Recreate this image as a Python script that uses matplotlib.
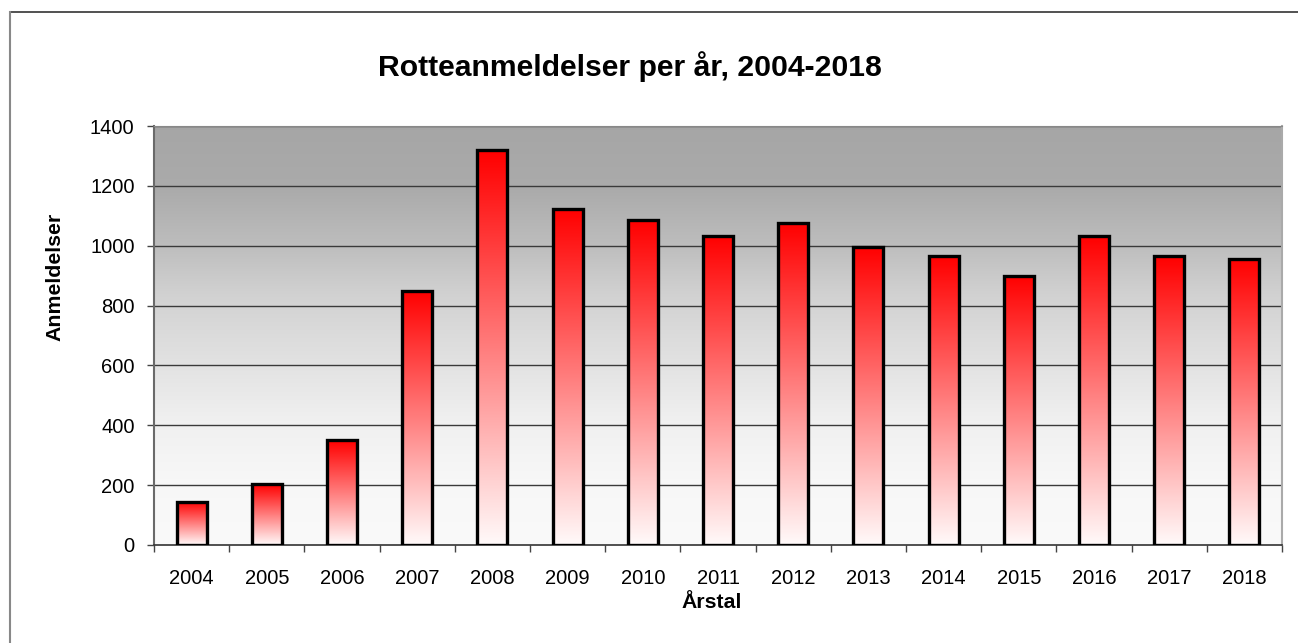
import numpy as np
import matplotlib
matplotlib.use("Agg")
import matplotlib.pyplot as plt
from matplotlib.lines import Line2D
from matplotlib.colors import LinearSegmentedColormap

years = ["2004", "2005", "2006", "2007", "2008", "2009", "2010", "2011",
         "2012", "2013", "2014", "2015", "2016", "2017", "2018"]
reports = [145, 203, 350, 850, 1319, 1123, 1085, 1034, 1077, 996, 964, 899, 1031, 965, 956]
yticks = [0, 200, 400, 600, 800, 1000, 1200, 1400]

title = "Rotteanmeldelser per år, 2004-2018"
xlabel = "Årstal"
ylabel = "Anmeldelser"

plt.rcParams['font.family'] = ['Liberation Sans', 'DejaVu Sans']

W, H = 1298, 643
fig = plt.figure(figsize=(W / 100, H / 100), dpi=100)
fig.patch.set_facecolor("white")

ax = fig.add_axes([154 / W, 1 - 545 / H, (1282 - 154) / W, (545 - 126) / H])
n = len(years)

# background gradient (grey at top to near-white at bottom)
bg_cmap = LinearSegmentedColormap.from_list(
    "bg",
    [(0.0, (0.98, 0.98, 0.98)), (0.15, (0.97, 0.97, 0.97)), (0.3, (0.94, 0.94, 0.94)),
     (0.45, (0.88, 0.88, 0.88)), (0.6, (0.82, 0.82, 0.82)), (0.72, (0.74, 0.74, 0.74)),
     (0.85, (0.67, 0.67, 0.67)), (1.0, (0.65, 0.65, 0.65))])
grad = np.linspace(0, 1, 256).reshape(-1, 1)
ax.imshow(grad, extent=[-0.5, n - 0.5, 0, 1400], origin="lower", aspect="auto",
          cmap=bg_cmap, zorder=0, interpolation="bilinear")

# gridlines
for t in yticks[1:]:
    ax.axhline(t, color="#3a3a3a", lw=1.0, zorder=1)

# bars with red-to-white gradient
bar_cmap = LinearSegmentedColormap.from_list(
    "bar", [(0.0, (1.0, 0.98, 0.98)), (1.0, (1.0, 0.0, 0.0))])
bw = 0.4
ax.bar(range(n), reports, width=bw, facecolor="none", edgecolor="black",
       linewidth=2.4, zorder=3)
for i, v in enumerate(reports):
    ax.imshow(grad, extent=[i - bw / 2, i + bw / 2, 0, v], origin="lower",
              aspect="auto", cmap=bar_cmap, zorder=2, interpolation="bilinear")
ax.set_xlim(-0.5, n - 0.5)
ax.set_ylim(0, 1400)

# ticks
ax.set_yticks(yticks)
ax.set_yticklabels([str(t) for t in yticks], fontsize=14.5)
ax.set_xticks(range(n))
ax.set_xticklabels(years, fontsize=14.5)
ax.tick_params(axis="x", length=0, pad=17)
ax.set_xticks(np.arange(-0.5, n, 1.0), minor=True)
ax.tick_params(axis="x", which="minor", length=5, width=1, color="#444444", direction="out")
ax.tick_params(axis="y", length=5, width=1, color="#444444", direction="out", pad=9)

ax.spines["left"].set_color("#6a6a6a")
ax.spines["left"].set_linewidth(1.5)
ax.spines["bottom"].set_color("#333333")
ax.spines["bottom"].set_linewidth(1.2)
ax.spines["top"].set_color("#888888")
ax.spines["right"].set_color("#aaaaaa")
ax.spines["right"].set_linewidth(1.5)

fig.text(630 / W, 1 - 76 / H, title, fontsize=21.7, fontweight="bold",
         ha="center", va="baseline")
fig.text(712 / W, 1 - 608 / H, xlabel, fontsize=15.3, fontweight="bold",
         ha="center", va="baseline")
fig.text(55 / W, 1 - 277 / H, ylabel, fontsize=15.3, fontweight="bold",
         ha="center", va="center", rotation=90)

# outer chart frame (top and left visible)
fig.add_artist(Line2D([10 / W, 1.0], [1 - 12 / H, 1 - 12 / H], transform=fig.transFigure,
                      color="#333333", lw=1.2))
fig.add_artist(Line2D([10 / W, 10 / W], [0, 1 - 12 / H], transform=fig.transFigure,
                      color="#888888", lw=1.5))

fig.savefig("out.png", dpi=100)
